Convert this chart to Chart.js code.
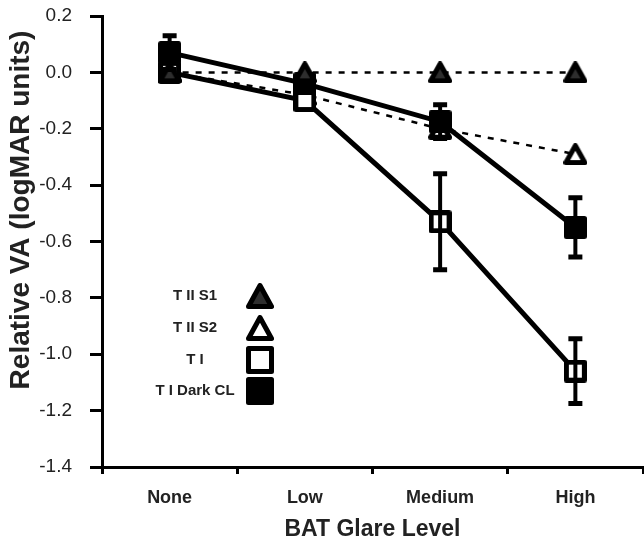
<!DOCTYPE html>
<html>
<head>
<meta charset="utf-8">
<script src="https://cdn.jsdelivr.net/npm/chart.js@4.4.0/dist/chart.umd.min.js"></script>
<style>
  html, body { margin: 0; padding: 0; background: #fff; }
</style>
</head>
<body>
<canvas id="vaChart" width="644" height="546"></canvas>
<script>
const glareLevels = ['None', 'Low', 'Medium', 'High'];
const yTickValues = [0.2, 0, -0.2, -0.4, -0.6, -0.8, -1.0, -1.2, -1.4];

// relative VA per glare level, logMAR units
const tiiS1 = [0.0, 0.0, 0.0, 0.0];
const tiiS2 = [0.0, -0.08, -0.2, -0.29];
const ti = [0.0, -0.10, -0.53, -1.06];
const tiErr = [0, 0, 0.17, 0.115];
const tiDark = [0.07, -0.04, -0.175, -0.55];
const tiDarkErr = [0.06, 0, 0.06, 0.105];

const FONT = "'Liberation Sans', Arial, Helvetica, sans-serif";
const TEXT = '#222';
Chart.defaults.font.family = FONT;

// marker bitmaps with rounded joins, centred on their bounding box
function makeMarker(shape, w, h, fill, lw) {
    const c = document.createElement('canvas');
    c.width = w;
    c.height = h;
    const g = c.getContext('2d');
    const m = lw / 2;
    g.lineWidth = lw;
    g.lineJoin = 'round';
    g.strokeStyle = '#000';
    g.fillStyle = fill;
    g.beginPath();
    if (shape === 'square') {
        g.rect(m, m, w - lw, h - lw);
    } else {
        g.moveTo(w / 2, m);
        g.lineTo(w - m, h - m);
        g.lineTo(m, h - m);
        g.closePath();
    }
    g.fill();
    g.stroke();
    return c;
}

const markers = {
    darkTri: makeMarker('triangle', 24, 22, '#2e2e2e', 5),
    openTri: makeMarker('triangle', 24, 22, '#fff', 5),
    openSq: makeMarker('square', 23, 23, '#fff', 5),
    fullSq: makeMarker('square', 23, 23, '#000', 5)
};
const legendMarkers = {
    darkTri: makeMarker('triangle', 28, 26, '#2e2e2e', 5),
    openTri: makeMarker('triangle', 28, 26, '#fff', 5),
    openSq: makeMarker('square', 28, 28, '#fff', 5),
    fullSq: makeMarker('square', 28, 28, '#000', 5)
};

const errorBars = {
    id: 'errorBars',
    afterDatasetsDraw(chart) {
        const { ctx, scales: { x, y } } = chart;
        ctx.save();
        ctx.strokeStyle = '#000';
        chart.data.datasets.forEach(ds => {
            if (!ds.errors) return;
            ds.data.forEach((v, i) => {
                const e = ds.errors[i];
                if (!e) return;
                const px = x.getPixelForValue(i);
                const top = y.getPixelForValue(v + e);
                const bot = y.getPixelForValue(v - e);
                ctx.lineWidth = 4;
                ctx.beginPath();
                ctx.moveTo(px, top);
                ctx.lineTo(px, bot);
                ctx.stroke();
                ctx.lineWidth = 5;
                ctx.beginPath();
                ctx.moveTo(px - 7, top);
                ctx.lineTo(px + 7, top);
                ctx.moveTo(px - 7, bot);
                ctx.lineTo(px + 7, bot);
                ctx.stroke();
            });
        });
        ctx.restore();
    }
};

// legend sits inside the plot, text centred left of each marker
const legendRows = [
    { text: 'T II S1', marker: 'darkTri', y: 296 },
    { text: 'T II S2', marker: 'openTri', y: 328 },
    { text: 'T I', marker: 'openSq', y: 360 },
    { text: 'T I Dark CL', marker: 'fullSq', y: 391 }
];

const legendBox = {
    id: 'legendBox',
    afterDraw(chart) {
        const ctx = chart.ctx;
        ctx.save();
        ctx.fillStyle = TEXT;
        ctx.font = 'bold 15px ' + FONT;
        ctx.textAlign = 'center';
        ctx.textBaseline = 'middle';
        legendRows.forEach(r => {
            ctx.fillText(r.text, 195, r.y);
            const img = legendMarkers[r.marker];
            ctx.drawImage(img, 260 - img.width / 2, r.y - img.height / 2);
        });
        ctx.restore();
    }
};

const yTitle = {
    id: 'yTitle',
    afterDraw(chart) {
        const ctx = chart.ctx;
        ctx.save();
        ctx.translate(21, 210);
        ctx.rotate(-Math.PI / 2);
        ctx.fillStyle = TEXT;
        ctx.font = 'bold 28px ' + FONT;
        ctx.textAlign = 'center';
        ctx.textBaseline = 'middle';
        ctx.fillText('Relative VA (logMAR units)', 0, 0);
        ctx.restore();
    }
};

function series(label, data, marker, solid, order, errors) {
    return {
        label,
        data,
        errors,
        order,
        borderColor: '#000',
        backgroundColor: '#000',
        borderWidth: solid ? 5 : 2.5,
        borderDash: solid ? [] : [6, 7],
        pointStyle: markers[marker],
        pointRadius: 12,
        tension: 0,
        clip: false
    };
}

new Chart(document.getElementById('vaChart'), {
    type: 'line',
    data: {
        labels: glareLevels,
        datasets: [
            series('T II S1', tiiS1, 'darkTri', false, 1),
            series('T II S2', tiiS2, 'openTri', false, 4),
            series('T I', ti, 'openSq', true, 3, tiErr),
            series('T I Dark CL', tiDark, 'fullSq', true, 2, tiDarkErr)
        ]
    },
    options: {
        responsive: false,
        animation: false,
        devicePixelRatio: 1,
        layout: {
            autoPadding: false,
            padding: { top: 16, right: 1, left: 0, bottom: 0 }
        },
        plugins: {
            legend: { display: false },
            tooltip: { enabled: false }
        },
        scales: {
            x: {
                offset: true,
                grid: {
                    offset: true,
                    drawOnChartArea: false,
                    tickLength: 7,
                    tickWidth: 3,
                    tickColor: '#000'
                },
                border: { color: '#000', width: 3 },
                ticks: {
                    color: TEXT,
                    padding: 13,
                    maxRotation: 0,
                    font: { size: 18, weight: 'bold' }
                },
                title: {
                    display: true,
                    text: 'BAT Glare Level',
                    color: TEXT,
                    font: { size: 23, weight: 'bold' },
                    padding: { top: 0, bottom: 3 }
                },
                afterFit(s) { s.height = 79; }
            },
            y: {
                min: -1.4,
                max: 0.2,
                afterBuildTicks(s) { s.ticks = yTickValues.map(v => ({ value: v })); },
                grid: {
                    drawOnChartArea: false,
                    tickLength: 12,
                    tickWidth: 3,
                    tickColor: '#000'
                },
                border: { color: '#000', width: 3 },
                ticks: {
                    color: TEXT,
                    padding: 18,
                    font: { size: 19 },
                    callback: v => v.toFixed(1)
                },
                afterFit(s) {
                    s.width = 102;
                    // keep the label padding from pushing the plot down
                    s.paddingTop = 0;
                    s.paddingBottom = 0;
                }
            }
        }
    },
    plugins: [errorBars, legendBox, yTitle]
});
</script>
</body>
</html>
